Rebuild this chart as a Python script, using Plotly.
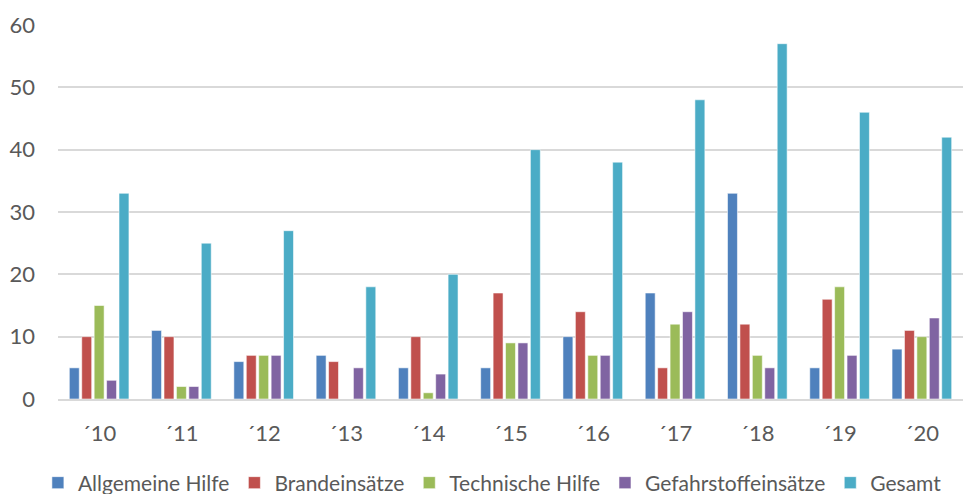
import plotly.graph_objects as go

years = ["´10", "´11", "´12", "´13", "´14", "´15", "´16", "´17", "´18", "´19", "´20"]
allgemeine_hilfe = [5, 11, 6, 7, 5, 5, 10, 17, 33, 5, 8]
brandeinsaetze = [10, 10, 7, 6, 10, 17, 14, 5, 12, 16, 11]
technische_hilfe = [15, 2, 7, 0, 1, 9, 7, 12, 7, 18, 10]
gefahrstoffeinsaetze = [3, 2, 7, 5, 4, 9, 7, 14, 5, 7, 13]
gesamt = [33, 25, 27, 18, 20, 40, 38, 48, 57, 46, 42]

series = [
    ("Allgemeine Hilfe", allgemeine_hilfe, "#4F81BD"),
    ("Brandeinsätze", brandeinsaetze, "#C0504D"),
    ("Technische Hilfe", technische_hilfe, "#9BBB59"),
    ("Gefahrstoffeinsätze", gefahrstoffeinsaetze, "#8064A2"),
    ("Gesamt", gesamt, "#4BACC6"),
]

fig = go.Figure()
for name, vals, color in series:
    fig.add_trace(go.Bar(
        x=years, y=vals, name=name,
        marker=dict(color=color, line=dict(color="rgba(255,255,255,0.55)", width=1)),
    ))

font_family = "Lato, 'Open Sans', sans-serif"
plot_h = 494 - 25 - 95
fig.update_layout(
    width=963, height=494,
    margin=dict(l=58, r=0, t=25, b=95, autoexpand=False),
    paper_bgcolor="white", plot_bgcolor="white",
    barmode="group", bargap=0.245, bargroupgap=0.2,
    font=dict(family=font_family, size=22, color="#595959"),
    showlegend=True,
    legend=dict(orientation="h", x=0.48, xanchor="center",
                y=(399 - 483) / plot_h, yanchor="middle",
                font=dict(size=21, color="#595959"), itemwidth=30,
                traceorder="normal"),
    xaxis=dict(showgrid=False, showline=True, linecolor="#D9D9D9", linewidth=2,
               automargin=False, ticks="", tickfont=dict(size=22, color="#595959"),
               ticklabelstandoff=14),
    yaxis=dict(range=[0, 60], dtick=10, showgrid=True, gridcolor="#D9D9D9", gridwidth=1.5,
               zeroline=False, showline=False, ticks="", automargin=False,
               tickfont=dict(size=22, color="#595959"), ticklabelstandoff=22),
)

fig.write_html(
    "out.html",
    config={"displayModeBar": False},
    post_script="document.body.style.margin='0';document.body.style.overflow='hidden';",
)
